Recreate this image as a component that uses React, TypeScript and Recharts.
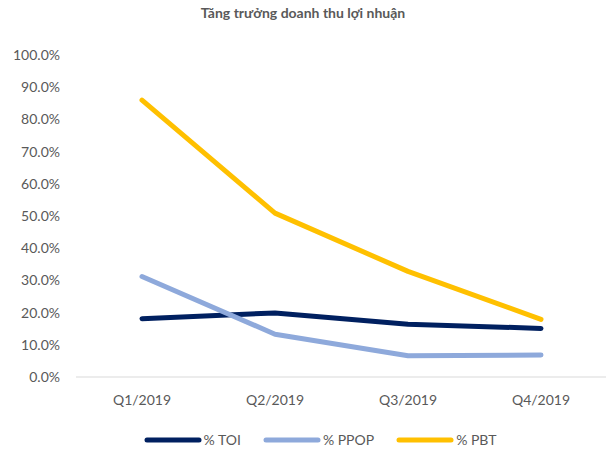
import { LineChart, Line, XAxis, YAxis, Legend } from "recharts";

const quarters = ["Q1/2019", "Q2/2019", "Q3/2019", "Q4/2019"];
const toi = [18.1, 19.9, 16.4, 15.1];
const ppop = [31.2, 13.3, 6.6, 6.8];
const pbt = [86.0, 50.9, 32.8, 17.9];
const yTicks = [0, 10, 20, 30, 40, 50, 60, 70, 80, 90, 100];

const SERIES = [
  { key: "toi", name: "% TOI", color: "#002060" },
  { key: "ppop", name: "% PPOP", color: "#8EA9DB" },
  { key: "pbt", name: "% PBT", color: "#FFC000" },
];

const data = quarters.map((q, i) => ({ q, toi: toi[i], ppop: ppop[i], pbt: pbt[i] }));

const FONT = "Lato, 'Open Sans', sans-serif";
const TICK = { fontSize: 14, fill: "#595959", fontFamily: FONT };

function LegendContent() {
  return (
    <div
      style={{
        display: "flex",
        justifyContent: "center",
        paddingTop: 8,
        paddingLeft: 34,
        fontFamily: FONT,
        fontSize: 14,
        color: "#595959",
      }}
    >
      {SERIES.map((s, i) => (
        <div key={s.key} style={{ display: "flex", alignItems: "center", marginRight: i < SERIES.length - 1 ? 22 : 0 }}>
          <svg width={58} height={8} style={{ marginRight: 2 }}>
            <line x1={3} y1={4} x2={55} y2={4} stroke={s.color} strokeWidth={5} strokeLinecap="round" />
          </svg>
          <span>{s.name}</span>
        </div>
      ))}
    </div>
  );
}

export default function App() {
  return (
    <div style={{ position: "absolute", left: 0, top: 0, width: 606, height: 451, background: "#fff" }}>
      <div
        style={{
          position: "absolute",
          top: 4,
          left: 0,
          width: 606,
          textAlign: "center",
          fontFamily: FONT,
          fontWeight: "bold",
          fontSize: 14,
          color: "#595959",
        }}
      >
        Tăng trưởng doanh thu lợi nhuận
      </div>
      <LineChart width={606} height={451} data={data} margin={{ top: 55, right: 0, left: 0, bottom: 0 }}>
        <XAxis
          dataKey="q"
          tick={TICK}
          tickLine={false}
          axisLine={{ stroke: "#D9D9D9" }}
          tickMargin={12}
          height={46}
          padding={{ left: 66, right: 65 }}
        />
        <YAxis
          domain={[0, 100]}
          ticks={yTicks}
          tickFormatter={(v) => `${v.toFixed(1)}%`}
          tick={TICK}
          tickLine={false}
          axisLine={false}
          tickMargin={10}
          width={76}
          interval={0}
        />
        <Legend verticalAlign="bottom" height={28} content={<LegendContent />} />
        {SERIES.map((s) => (
          <Line
            key={s.key}
            dataKey={s.key}
            name={s.name}
            stroke={s.color}
            strokeWidth={5}
            strokeLinecap="round"
            strokeLinejoin="round"
            dot={false}
            activeDot={false}
            type="linear"
            isAnimationActive={false}
          />
        ))}
      </LineChart>
    </div>
  );
}
